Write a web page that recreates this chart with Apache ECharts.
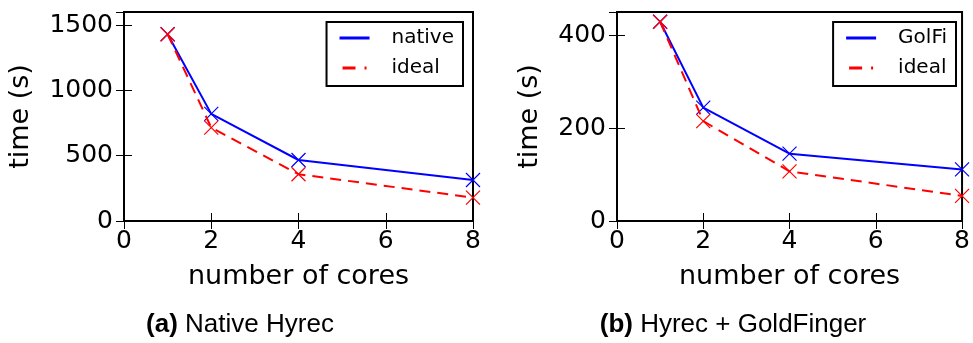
<!DOCTYPE html>
<html>
<head>
<meta charset="utf-8">
<script src="https://cdn.jsdelivr.net/npm/echarts@6/dist/echarts.min.js"></script>
<style>
  html, body { margin: 0; padding: 0; background: #fff; }
  #chart { width: 973px; height: 343px; }
</style>
</head>
<body>
<div id="chart"></div>
<script>
const cores = [1, 2, 4, 8];
const nativeTime = [1430, 820, 467, 314];
const nativeIdeal = [1430, 715, 358, 179];
const golfiTime = [429, 244, 145, 111];
const golfiIdeal = [429, 215, 107, 54];
const xTicks = { min: 0, max: 8, interval: 2 };
const leftY = { min: 0, max: 1600, interval: 500 };
const rightY = { min: 0, max: 450, interval: 200 };

const FONT = 'DejaVu Sans';
const FS = 27;      // axis names
const TICK_FS = 25; // tick labels
const xMark = 'path://M0,0L10,10M10,0L0,10';
const lineIcon = 'path://M0,0H30V3H0Z';
const dashIcon = 'path://M0,0H13V3H0ZM22,0H24V3H22Z';

const chart = echarts.init(document.getElementById('chart'));

const pts = (ys) => cores.map((c, i) => [c, ys[i]]);

const mkSeries = (name, ys, color, dashed, idx) => ({
  name,
  type: 'line',
  xAxisIndex: idx * 2,
  yAxisIndex: idx * 2,
  data: pts(ys),
  symbol: xMark,
  symbolSize: 14,
  clip: false,
  lineStyle: { color, width: 2, type: dashed ? [11, 7] : 'solid' },
  itemStyle: { color: 'rgba(0,0,0,0)', borderColor: color, borderWidth: 1.2 },
  z: dashed ? 3 : 2
});

const xAx = (grid, top) => ({
  type: 'value', gridIndex: grid, position: top ? 'top' : 'bottom',
  min: xTicks.min, max: xTicks.max, interval: xTicks.interval,
  axisLine: { show: false },
  axisTick: { inside: true, length: 8, lineStyle: { color: '#000', width: 1 } },
  axisLabel: { show: !top, color: '#000', fontFamily: FONT, fontSize: TICK_FS, margin: 8, formatter: v => String(v) },
  splitLine: { show: false },
  name: top ? '' : 'number of cores',
  nameLocation: 'middle', nameGap: 42,
  nameTextStyle: { color: '#000', fontFamily: FONT, fontSize: FS }
});

const yAx = (grid, right, r, gap) => ({
  type: 'value', gridIndex: grid, position: right ? 'right' : 'left',
  min: r.min, max: r.max, interval: r.interval,
  axisLine: { show: false },
  axisTick: { inside: true, length: 8, lineStyle: { color: '#000', width: 1 } },
  axisLabel: { show: !right, showMaxLabel: false, color: '#000', fontFamily: FONT, fontSize: TICK_FS, margin: 11, formatter: v => String(v) },
  splitLine: { show: false },
  name: right ? '' : 'time (s)',
  nameLocation: 'middle', nameGap: gap,
  nameTextStyle: { color: '#000', fontFamily: FONT, fontSize: FS }
});

const legendBox = (right, names, colors) => ({
  right, top: 22, orient: 'vertical',
  backgroundColor: '#fff',
  borderColor: '#000', borderWidth: 2, borderRadius: 0,
  padding: [6, 9, 8, 13],
  itemWidth: 30, itemHeight: 3, itemGap: 10,
  textStyle: { color: '#000', fontFamily: FONT, fontSize: 20, lineHeight: 20, padding: [0, 0, 0, 17] },
  data: names.map((n, i) => ({
    name: n,
    icon: i === 0 ? lineIcon : dashIcon,
    itemStyle: { color: colors[i], borderWidth: 0 }
  }))
});

chart.setOption({
  animation: false,
  grid: [
    { left: 124, top: 12, width: 349, height: 209, show: true, borderColor: '#000', borderWidth: 2, backgroundColor: 'transparent' },
    { left: 617, top: 12, width: 348, height: 209, show: true, borderColor: '#000', borderWidth: 2, backgroundColor: 'transparent' }
  ],
  xAxis: [xAx(0, false), xAx(0, true), xAx(1, false), xAx(1, true)],
  yAxis: [yAx(0, false, leftY, 90), yAx(0, true, leftY, 0), yAx(1, false, rightY, 74), yAx(1, true, rightY, 0)],
  legend: [
    legendBox(973 - 463, ['native', 'ideal'], ['#0000ff', '#ff0000']),
    legendBox(973 - 956, ['GolFi', 'ideal'], ['#0000ff', '#ff0000'])
  ],
  series: [
    mkSeries('native', nativeTime, '#0000ff', false, 0),
    mkSeries('ideal', nativeIdeal, '#ff0000', true, 0),
    mkSeries('GolFi', golfiTime, '#0000ff', false, 1),
    mkSeries('ideal', golfiIdeal, '#ff0000', true, 1)
  ],
  graphic: [
    {
      type: 'text', x: 240, y: 325,
      style: {
        text: '{b|(a)} Native Hyrec', align: 'center', verticalAlign: 'middle',
        fontFamily: 'Liberation Sans', fontSize: 26, fill: '#000',
        rich: { b: { fontFamily: 'Liberation Sans', fontSize: 26, fontWeight: 'bold', fill: '#000' } }
      }
    },
    {
      type: 'text', x: 733, y: 325,
      style: {
        text: '{b|(b)} Hyrec + GoldFinger', align: 'center', verticalAlign: 'middle',
        fontFamily: 'Liberation Sans', fontSize: 26, fill: '#000',
        rich: { b: { fontFamily: 'Liberation Sans', fontSize: 26, fontWeight: 'bold', fill: '#000' } }
      }
    }
  ]
});
</script>
</body>
</html>
